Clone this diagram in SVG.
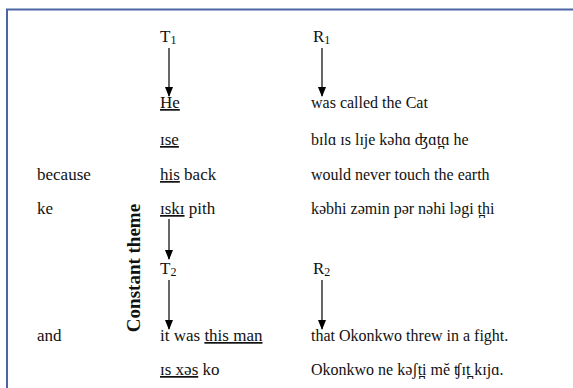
<svg xmlns="http://www.w3.org/2000/svg" width="573" height="388" viewBox="0 0 573 388">
  <defs>
    <marker id="arrow" markerWidth="10" markerHeight="8" refX="9" refY="4" orient="auto" markerUnits="userSpaceOnUse">
      <path d="M0,0 L10,4 L0,8 Z" fill="#000"/>
    </marker>
    <style>
      text { font-family: "Liberation Serif", "Times New Roman", "DejaVu Serif", serif; font-size: 17px; fill: #111; }
      .r { font-size: 16px; }
      .u { text-decoration: underline; }
      .sub { font-size: 12px; }
      .vert { font-weight: bold; font-size: 19px; }
      .conn line { stroke: #000; stroke-width: 1.2; marker-end: url(#arrow); }
      .frame { stroke: #4a64a4; stroke-width: 2; fill: none; }
    </style>
  </defs>

  <rect width="573" height="388" fill="#fff"/>
  <!-- open frame: top and left edges -->
  <path class="frame" d="M7,388 L7,9.5 L573,9.5"/>

  <!-- theme / rheme headers -->
  <g id="t1"><text x="160" y="42">T<tspan class="sub" dy="2">1</tspan></text></g>
  <g id="r1"><text x="313" y="42">R<tspan class="sub" dy="2">1</tspan></text></g>
  <g id="t2"><text x="160" y="274">T<tspan class="sub" dy="2">2</tspan></text></g>
  <g id="r2"><text x="313" y="274">R<tspan class="sub" dy="2">2</tspan></text></g>

  <!-- clause 1 -->
  <g id="row-he">
    <text x="160" y="108"><tspan class="u">He</tspan></text>
    <text class="r" x="311" y="108">was called the Cat</text>
  </g>
  <g id="row-ise">
    <text x="160" y="145"><tspan class="u">ɪse</tspan></text>
    <text class="r" x="311" y="145">bɪlɑ ɪs lɪje kəhɑ ʤɑt̪ɑ he</text>
  </g>

  <!-- clause 2 -->
  <g id="row-because">
    <text x="37" y="180">because</text>
    <text x="160" y="180"><tspan class="u">his</tspan> back</text>
    <text class="r" x="311" y="180">would never touch the earth</text>
  </g>
  <g id="row-ke">
    <text x="37" y="214">ke</text>
    <text x="160" y="214"><tspan class="u">ɪskɪ</tspan> pith</text>
    <text class="r" x="311" y="214">kəbhi zəmin pər nəhi ləgi t̪hi</text>
  </g>

  <!-- clause 3 -->
  <g id="row-and">
    <text x="37" y="341">and</text>
    <text x="160" y="341">it was <tspan class="u">this man</tspan></text>
    <text class="r" x="311" y="341">that Okonkwo threw in a fight.</text>
  </g>
  <g id="row-is">
    <text x="160" y="375"><tspan class="u">ɪs xəs</tspan> ko</text>
    <text class="r" x="311" y="375">Okonkwo ne kəʃt̪i mĕ ʧɪt̪ kɪjɑ.</text>
  </g>

  <!-- side label -->
  <g id="constant-theme">
    <text class="vert" transform="translate(140,268) rotate(-90)" text-anchor="middle">Constant theme</text>
  </g>

  <!-- connectors -->
  <g id="connectors" class="conn">
    <line x1="169" y1="48" x2="169" y2="96"/>
    <line x1="322" y1="48" x2="322" y2="96"/>
    <line x1="169" y1="219" x2="169" y2="259"/>
    <line x1="169" y1="280" x2="169" y2="329"/>
    <line x1="322" y1="280" x2="322" y2="329"/>
  </g>
</svg>
